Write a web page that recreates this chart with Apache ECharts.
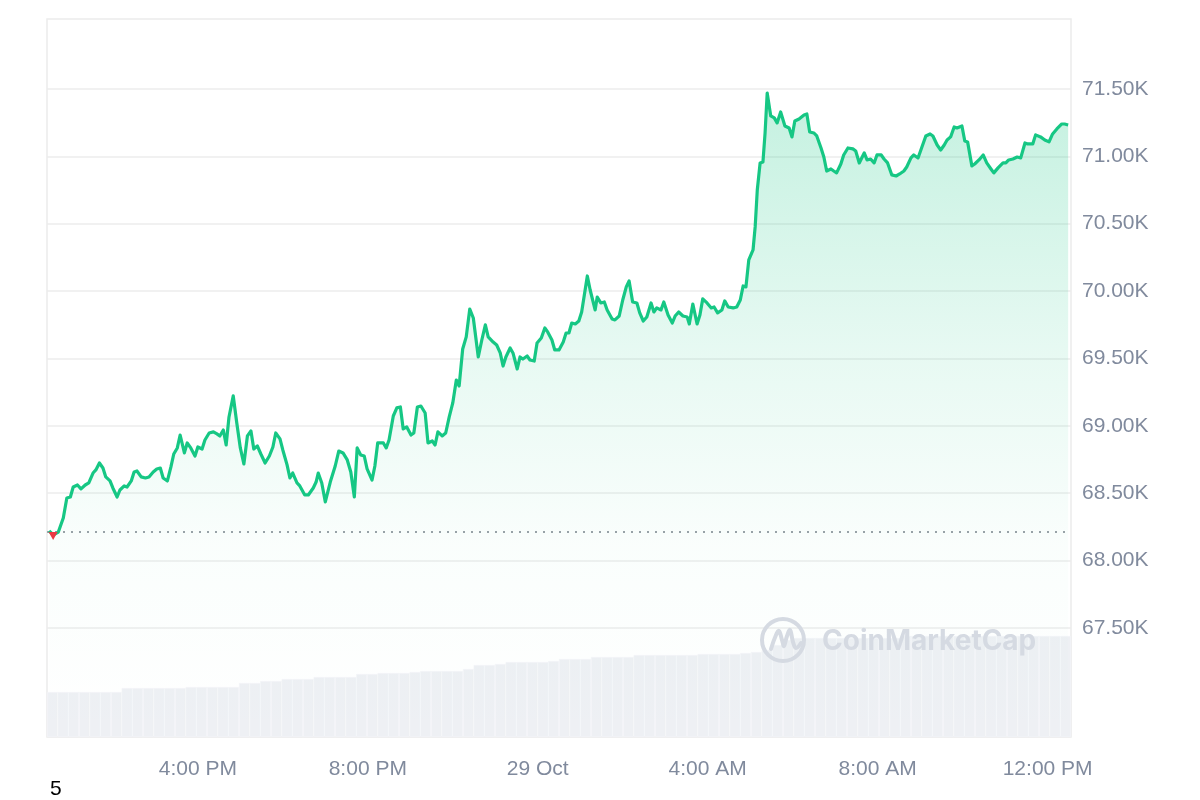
<!DOCTYPE html>
<html>
<head>
<meta charset="utf-8">
<script src="https://cdn.jsdelivr.net/npm/echarts@6/dist/echarts.min.js"></script>
<style>
html,body{margin:0;padding:0;background:#fff;}
#chart{width:1200px;height:800px;}
</style>
</head>
<body>
<div id="chart"></div>
<script>
// Start of data: 12:30 PM, 28 Oct (minutes after midnight of 28 Oct)
const startMinute = 750;
// minutes after start for each price sample
const minutes = [
  0,6,13,20,25,30,34,40,45,51,
  56,62,66,71,76,80,86,90,96,100,
  106,110,116,120,124,130,136,141,147,152,
  157,161,167,172,176,181,185,191,195,200,
  206,210,216,220,226,232,237,241,246,250,
  254,260,265,270,275,280,285,289,294,299,
  305,311,316,320,326,330,336,340,344,350,
  354,361,366,373,377,380,385,390,397,404,
  409,415,421,426,431,435,440,445,449,456,
  460,464,472,476,480,486,491,496,500,505,
  511,515,520,525,531,535,541,545,549,555,
  560,565,570,575,579,584,589,594,599,
  606,611,616,620,627,632,637,641,645,651,
  655,661,665,669,675,679,685,689,695,700,
  704,710,714,720,726,730,734,738,743,748,
  752,760,764,771,774,779,784,788,795,799,
  805,810,815,819,824,830,834,839,844,850,
  854,858,864,868,874,880,884,889,895,901,
  904,909,915,919,923,929,935,939,944,950,
  954,959,966,971,976,980,984,988,994,997,
  1000,1004,1008,1011,1014,1019,1024,1028,1033,1039,
  1045,1049,1053,1059,1066,1070,1074,1080,1084,1090,
  1094,1098,1104,1108,1112,1118,1122,1128,1135,1139,
  1144,1151,1155,1160,1165,1169,1175,1179,1184,1190,
  1196,1201,1207,1211,1217,1221,1227,1232,1238,1244,
  1248,1254,1259,1264,1268,1273,1278,1282,1289,1293,
  1297,1303,1307,1313,1319,1324,1330,1334,1340,1347,
  1351,1355,1361,1367,1372,1378,1382,1389,1393,1400,
  1406,1412,1417,1423,1430,1434,1439
];
// BTC price (USD)
const prices = [
  68220,68190,68212,68316,68465,68472,68546,68561,68532,68561,
  68576,68650,68673,68724,68687,68621,68591,68539,68472,68524,
  68554,68546,68591,68658,68665,68621,68613,68621,68658,68680,
  68687,68613,68591,68695,68791,68836,68932,68799,68873,68836,
  68776,68843,68828,68895,68947,68955,68940,68925,68969,68858,
  69066,69222,69021,68836,68717,68925,68962,68828,68851,68791,
  68724,68776,68843,68947,68903,68821,68710,68613,68650,68576,
  68554,68487,68487,68539,68583,68650,68576,68435,68583,68702,
  68813,68799,68747,68658,68472,68836,68784,68776,68680,68598,
  68702,68873,68873,68836,68895,69073,69133,69140,68977,68992,
  68932,68947,69140,69147,69095,68873,68888,68858,68955,68925,
  68947,69066,69170,69340,69296,69570,69660,69867,69800,
  69511,69637,69749,69660,69622,69600,69541,69444,69511,69578,
  69541,69422,69511,69496,69518,69489,69481,69615,69652,69726,
  69697,69637,69563,69563,69622,69689,69689,69763,69756,69778,
  69845,70112,70008,69860,69956,69912,69919,69860,69793,69786,
  69815,69934,70031,70075,69919,69912,69838,69778,69808,69912,
  69845,69875,69860,69919,69823,69763,69815,69845,69815,69808,
  69756,69904,69756,69823,69942,69912,69875,69882,69838,69860,
  69927,69882,69875,69882,69934,70038,70031,70231,70305,70476,
  70750,70951,70958,71173,71470,71300,71285,71248,71329,71225,
  71210,71144,71262,71277,71307,71314,71181,71173,71151,71062,
  70995,70891,70906,70891,70877,70943,71010,71062,71055,71040,
  70951,71025,70973,70980,70951,71010,71010,70980,70951,70862,
  70854,70869,70891,70921,70988,71010,70988,71062,71151,71166,
  71151,71084,71047,71084,71121,71144,71218,71210,71225,71114,
  71107,70929,70943,70973,71010,70951,70906,70877,70914,70951,
  70951,70973,70980,70995,70988,71099,71092,71092,71159,71144,
  71121,71107,71166,71203,71240,71240,71233
];
// opening reference price (dotted line)
const openPrice = 68212;
// volume (billions USD), one bar per 15 minutes
const volumes = [
  18.0,18.0,18.0,18.0,18.0,18.0,18.0,
  19.6,19.6,19.6,19.6,19.6,19.6,
  20.0,20.0,20.0,20.0,20.0,
  21.6,21.6,22.4,22.4,
  23.2,23.2,23.2,24.0,24.0,24.0,24.0,
  25.2,25.2,25.6,25.6,25.6,26.0,
  26.4,26.4,26.4,26.4,27.2,
  28.8,28.8,29.2,30.0,30.0,30.0,30.0,30.4,
  31.2,31.2,31.2,32.0,32.0,32.0,32.0,
  32.8,32.8,32.8,32.8,32.8,32.8,
  33.2,33.2,33.2,33.2,33.6,34.0,34.8,36.8,38.8,
  39.6,39.6,39.6,39.6,39.6,39.6,39.6,39.6,39.6,39.6,
  40.4,40.4,40.4,40.4,40.4,40.4,40.4,40.4,
  40.4,40.4,40.4,40.4,40.4,40.4,40.4,40.4
];
// x-axis tick positions (minutes after midnight 28 Oct) and labels
const xTickMinutes = [960, 1200, 1440, 1680, 1920, 2160];
const xTickLabels = ['4:00 PM', '8:00 PM', '29 Oct', '4:00 AM', '8:00 AM', '12:00 PM'];
// y-axis ticks
const yTicks = [67500, 68000, 68500, 69000, 69500, 70000, 70500, 71000, 71500];
const yTickLabels = ['67.50K','68.00K','68.50K','69.00K','69.50K','70.00K','70.50K','71.00K','71.50K'];

const xMin = 747, xMax = 2193;
const yMin = 66691, yMax = 72019;

const priceData = minutes.map((m, i) => [startMinute + m, prices[i]]);
const FONT = '"Liberation Sans", Arial, Helvetica, sans-serif';
const GREEN = '#16c784';
const WM = '#d5dae2';

const chart = echarts.init(document.getElementById('chart'), null, {renderer: 'canvas'});
chart.setOption({
  animation: false,
  backgroundColor: '#ffffff',
  grid: [
    {left: 47, right: 129, top: 19, bottom: 63, show: true, borderColor: '#ececec', borderWidth: 1.5, backgroundColor: 'transparent'},
    {left: 47, right: 129, top: 636, bottom: 63}
  ],
  xAxis: [
    {
      type: 'value', gridIndex: 0, min: xMin, max: xMax,
      axisLine: {show: false}, axisTick: {show: false, customValues: xTickMinutes},
      splitLine: {show: false},
      axisLabel: {
        customValues: xTickMinutes,
        margin: 22,
        fontSize: 21, color: '#808a9d', fontFamily: FONT,
        formatter: (v) => xTickLabels[xTickMinutes.indexOf(v)] || ''
      }
    },
    {
      type: 'category', gridIndex: 1, show: false, boundaryGap: true,
      data: volumes.map((v, i) => i)
    }
  ],
  yAxis: [
    {
      type: 'value', gridIndex: 0, position: 'right', min: yMin, max: yMax,
      axisLine: {show: false},
      axisTick: {show: false, customValues: yTicks},
      splitLine: {show: true, lineStyle: {color: '#ececec', width: 1.5}},
      axisLabel: {
        customValues: yTicks,
        margin: 11,
        fontSize: 21, color: '#808a9d', fontFamily: FONT,
        formatter: (v) => yTickLabels[yTicks.indexOf(v)] || ''
      }
    },
    {
      type: 'value', gridIndex: 1, min: 0, max: 40.4, show: false
    }
  ],
  series: [
    {
      type: 'bar', xAxisIndex: 1, yAxisIndex: 1,
      data: volumes, barCategoryGap: '0%',
      itemStyle: {color: '#eef0f4', borderColor: '#f4f5f8', borderWidth: 0.6},
      silent: true, z: 1
    },
    {
      type: 'line', xAxisIndex: 0, yAxisIndex: 0,
      data: priceData, showSymbol: false, smooth: false,
      lineStyle: {color: GREEN, width: 3.2, join: 'round'},
      areaStyle: {
        origin: 'start',
        color: new echarts.graphic.LinearGradient(0, 0, 0, 1, [
          {offset: 0, color: 'rgba(22,199,132,0.36)'},
          {offset: 0.4, color: 'rgba(22,199,132,0.15)'},
          {offset: 0.7, color: 'rgba(22,199,132,0.03)'},
          {offset: 1, color: 'rgba(22,199,132,0)'}
        ])
      },
      z: 3,
      markLine: {
        silent: true, symbol: ['none', 'none'],
        label: {show: false},
        lineStyle: {color: '#9ba1a8', width: 2, type: [2, 6]},
        data: [{yAxis: openPrice}],
        z: 2
      },
      markPoint: {
        silent: true,
        data: [{coord: [startMinute + minutes[0], openPrice], symbol: 'triangle', symbolRotate: 180,
                symbolSize: [9, 8], symbolOffset: [4, 4], itemStyle: {color: '#ea3943'}, label: {show: false}}],
        z: 5
      }
    }
  ],
  graphic: {
    elements: [
      {type: 'circle', zlevel: 1, z: 100, silent: true, shape: {cx: 783, cy: 640, r: 21}, style: {fill: 'none', stroke: WM, lineWidth: 4}},
      {type: 'polyline', zlevel: 1, z: 100, silent: true,
        shape: {points: [[771, 649], [776, 635], [779, 631], [782, 640], [784, 646], [787, 636], [790, 630], [793, 642], [796, 648], [801, 643]], smooth: 0.4},
        style: {fill: 'none', stroke: WM, lineWidth: 4, lineCap: 'round', lineJoin: 'round'}},
      {type: 'text', zlevel: 1, z: 100, silent: true, x: 822, y: 642,
        style: {text: 'CoinMarketCap', font: 'bold 28px Inter, "Noto Sans", sans-serif', fill: WM, textVerticalAlign: 'middle'}},
      {type: 'text', zlevel: 1, z: 100, silent: true, left: 50, top: 779,
        style: {text: '5', font: '21px "Liberation Sans", Arial, sans-serif', fill: '#000000'}}
    ]
  }
});
</script>
</body>
</html>
